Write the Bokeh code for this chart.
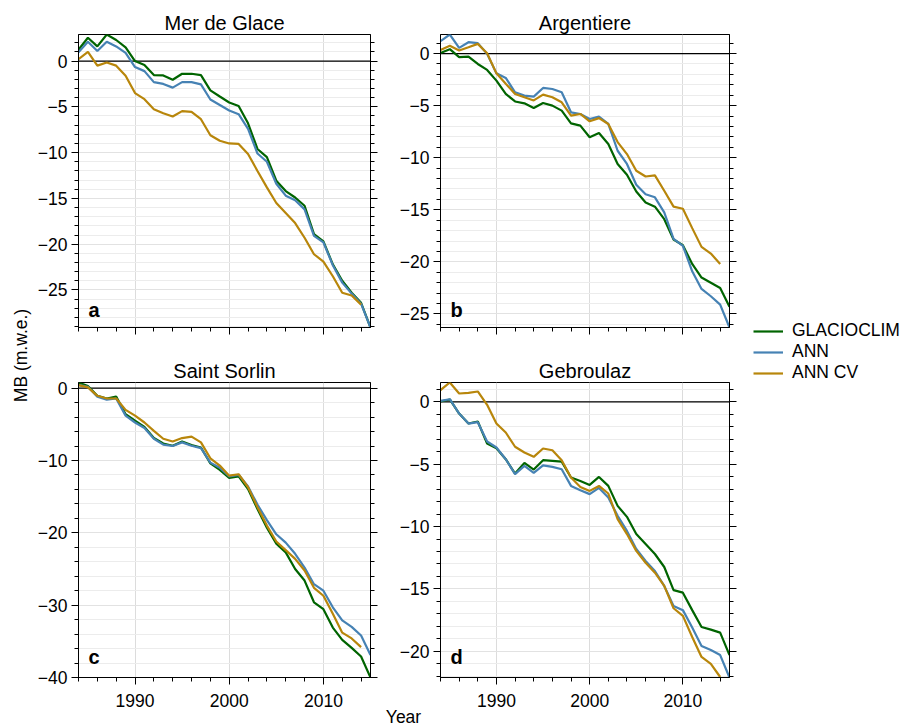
import math
from bokeh.plotting import figure
from bokeh.models import (Range1d, LinearAxis, SingleIntervalTicker, CustomJSTickFormatter,
                          Span, Label, Legend, LegendItem)
from bokeh.layouts import row, column
from bokeh.embed import file_html
from bokeh.resources import INLINE

# ---------------- data ----------------
years = list(range(1984, 2016))      # GLACIOCLIM and ANN
years_cv = list(range(1984, 2015))   # ANN CV

series_names = ["GLACIOCLIM", "ANN", "ANN CV"]

# Mer de Glace
mdg_glacioclim = [1.24, 2.55, 1.6, 2.9, 2.3, 1.5, 0.0, -0.44, -1.53, -1.57, -2.04, -1.39, -1.39, -1.53,
                  -3.2, -3.87, -4.53, -4.9, -6.8, -9.6, -10.5, -13.07, -14.2, -14.9, -15.8, -18.9,
                  -19.7, -22.2, -24.0, -25.3, -26.4, -29.1]
mdg_ann = [0.95, 2.1, 1.1, 2.1, 1.6, 0.9, -0.66, -1.1, -2.3, -2.5, -2.9, -2.3, -2.3, -2.55, -4.2, -4.8,
           -5.4, -5.8, -7.4, -10.1, -11.0, -13.4, -14.7, -15.2, -16.2, -19.1, -19.8, -22.3, -24.2,
           -25.4, -26.5, -29.1]
mdg_ann_cv = [0.2, 1.0, -0.5, -0.15, -0.5, -1.6, -3.5, -4.16, -5.26, -5.7, -6.06, -5.47, -5.55, -6.35,
              -8.1, -8.7, -9.0, -9.05, -10.15, -12.0, -13.8, -15.5, -16.6, -17.7, -19.3, -21.1, -21.9,
              -23.5, -25.3, -25.6, -26.6]

# Argentiere
arg_glacioclim = [0.06, 0.42, -0.35, -0.29, -1.0, -1.57, -2.6, -3.88, -4.6, -4.78, -5.22, -4.74, -5.0,
                  -5.48, -6.7, -6.92, -8.04, -7.63, -8.69, -10.6, -11.63, -13.24, -14.3, -14.7, -15.9,
                  -17.85, -18.4, -20.2, -21.5, -22.0, -22.5, -24.3]
arg_ann = [1.19, 1.83, 0.55, 1.09, 1.0, -0.03, -1.9, -2.34, -3.72, -4.04, -4.13, -3.3, -3.4, -3.72,
           -5.64, -5.8, -6.28, -6.06, -6.76, -9.33, -10.6, -12.6, -13.5, -13.8, -15.25, -17.8, -18.46,
           -20.9, -22.6, -23.3, -24.1, -26.3]
arg_ann_cv = [0.35, 0.74, 0.29, 0.6, 0.93, 0.03, -1.9, -2.9, -3.88, -4.2, -4.5, -3.94, -4.2, -4.68,
              -5.96, -5.8, -6.5, -6.2, -6.76, -8.5, -9.65, -11.25, -11.8, -11.7, -13.17, -14.7, -14.9,
              -16.76, -18.56, -19.2, -20.2]

# Saint Sorlin
ss_glacioclim = [0.78, 0.28, -1.06, -1.43, -1.15, -3.6, -4.5, -5.35, -6.9, -7.65, -7.97, -7.37, -7.88,
                 -8.2, -10.4, -11.3, -12.4, -12.2, -13.96, -16.7, -19.3, -21.5, -22.7, -25.0, -26.6,
                 -29.6, -30.55, -33.1, -34.8, -35.9, -37.1, -40.0]
ss_ann = [0.46, 0.18, -1.2, -1.6, -1.43, -3.8, -4.75, -5.5, -7.0, -7.8, -8.0, -7.5, -7.97, -8.3, -10.3,
          -11.0, -12.2, -11.98, -13.6, -16.1, -18.25, -20.2, -21.35, -22.9, -24.8, -27.1, -28.0, -30.3,
          -32.1, -33.0, -34.2, -36.9]
ss_ann_cv = [0.41, 0.1, -1.06, -1.43, -1.43, -3.0, -3.8, -4.75, -5.9, -7.0, -7.37, -6.9, -6.7, -7.5,
             -9.7, -10.7, -12.1, -11.9, -13.7, -16.45, -19.0, -21.2, -22.4, -23.6, -25.2, -27.6, -28.7,
             -31.2, -33.8, -34.6, -35.8]

# Gebroulaz
geb_glacioclim = [0.03, 0.19, -0.94, -1.74, -1.58, -3.34, -3.72, -4.6, -5.75, -4.9, -5.43, -4.68, -4.73,
                  -4.79, -6.07, -6.34, -6.66, -6.02, -6.74, -8.34, -9.22, -10.6, -11.4, -12.2, -13.24,
                  -15.1, -15.3, -16.7, -18.05, -18.26, -18.5, -20.3]
geb_ann = [0.08, 0.21, -0.94, -1.74, -1.63, -3.18, -3.66, -4.6, -5.8, -5.13, -5.7, -5.1, -5.21, -5.4,
           -6.74, -7.09, -7.4, -6.9, -7.67, -9.14, -10.35, -11.8, -12.75, -13.56, -14.76, -16.36, -16.7,
           -18.1, -19.57, -19.9, -20.3, -22.1]
geb_ann_cv = [0.94, 1.55, 0.67, 0.72, 0.83, -0.24, -1.74, -2.46, -3.6, -4.06, -4.41, -3.74, -3.88, -4.68,
              -6.07, -6.82, -7.14, -6.74, -7.35, -9.4, -10.6, -11.95, -12.9, -13.7, -14.76, -16.55,
              -17.16, -18.85, -20.45, -21.0, -22.06]

# ---------------- style ----------------
FONT = "Liberation Sans"
C_GL = "#006400"
C_ANN = "#4682b4"
C_CV = "#b8860b"
LW = 2.2
MINUS_JS = "return tick < 0 ? '\u2212' + Math.abs(tick) : String(tick);"
EMPTY_JS = "return '';"


def style_axis(ax, show_labels):
    ax.axis_line_color = "black"
    ax.axis_line_width = 1
    ax.major_tick_line_color = "black"
    ax.minor_tick_line_color = "black"
    ax.major_tick_in = 0
    ax.major_tick_out = 7
    ax.minor_tick_in = 0
    ax.minor_tick_out = 4
    ax.major_label_text_font = FONT
    ax.major_label_text_font_size = "17.5px"
    ax.major_label_text_color = "black"
    if show_labels:
        ax.formatter = CustomJSTickFormatter(code=MINUS_JS)
        ax.major_label_standoff = 4
    else:
        ax.formatter = CustomJSTickFormatter(code=EMPTY_JS)
        ax.major_label_standoff = 0


def make_panel(title, gl, ann, cv, major, w, h, bl, br, bt, bb, xlabels, letter, letter_y):
    ys = gl + ann + cv
    p = figure(width=w, height=h, x_range=Range1d(1984, 2015), y_range=Range1d(min(ys), max(ys)),
               output_backend="svg", toolbar_location=None,
               min_border_left=bl, min_border_right=br, min_border_top=bt, min_border_bottom=bb,
               background_fill_color="white", border_fill_color="white")
    xt = SingleIntervalTicker(interval=10, num_minor_ticks=5)
    yt = SingleIntervalTicker(interval=major, num_minor_ticks=5)
    bottom = p.below[0]
    left = p.left[0]
    bottom.ticker = xt
    left.ticker = yt
    right = LinearAxis(ticker=yt)
    p.add_layout(right, "right")
    style_axis(bottom, xlabels)
    style_axis(left, True)
    style_axis(right, False)
    if xlabels:
        bottom.major_label_standoff = 9

    p.xgrid.ticker = xt
    p.ygrid.ticker = yt
    p.xgrid.grid_line_color = "#dcdcdc"
    p.xgrid.minor_grid_line_color = None
    p.ygrid.grid_line_color = "#e2e2e2"
    p.ygrid.minor_grid_line_color = "#ececec"
    p.outline_line_color = "black"
    p.outline_line_width = 1

    p.title.text = title
    p.title.align = "center"
    p.title.text_font = FONT
    p.title.text_font_size = "20px"
    p.title.text_font_style = "normal"
    p.title.text_color = "black"
    p.title.standoff = 2

    p.add_layout(Span(location=0, dimension="width", line_color="black", line_width=1.2,
                      level="underlay"))

    p.line(years, gl, line_color=C_GL, line_width=LW)
    p.line(years, ann, line_color=C_ANN, line_width=LW)
    p.line(years_cv, cv, line_color=C_CV, line_width=LW)

    p.add_layout(Label(x=10, y=letter_y, x_units="screen", y_units="screen", text=letter,
                       text_font=FONT, text_font_size="20px", text_font_style="bold",
                       text_color="black", text_baseline="alphabetic"))
    return p


pa = make_panel("Mer de Glace", mdg_glacioclim, mdg_ann, mdg_ann_cv, 5,
                362, 355, 44, 26, 34, 28, False, "a", 18)
pb = make_panel("Argentiere", arg_glacioclim, arg_ann, arg_ann_cv, 5,
                344, 355, 41, 11, 34, 28, False, "b", 18)
pc = make_panel("Saint Sorlin", ss_glacioclim, ss_ann, ss_ann_cv, 10,
                362, 358, 44, 26, 27, 36, True, "c", 21)
pd = make_panel("Gebroulaz", geb_glacioclim, geb_ann, geb_ann_cv, 5,
                344, 358, 41, 11, 27, 36, True, "d", 21)


def blank(w, h):
    f = figure(width=w, height=h, x_range=Range1d(0, 1), y_range=Range1d(0, 1),
               x_axis_type=None, y_axis_type=None, min_border=0, outline_line_color=None,
               output_backend="svg", toolbar_location=None,
               background_fill_color="white", border_fill_color="white")
    return f


# y label
yf = blank(34, 727)
yf.add_layout(Label(x=20, y=372, x_units="screen", y_units="screen", text="MB (m.w.e.)",
                    angle=math.pi / 2, text_align="center", text_baseline="middle",
                    text_font=FONT, text_font_size="17.5px", text_color="black"))

# x label: transparent strip pulled up over the (empty) lower border of the bottom panels
xf = blank(706, 21)
xf.background_fill_alpha = 0
xf.border_fill_alpha = 0
xf.margin = (-7, 0, 0, 0)
xf.add_layout(Label(x=369, y=11, x_units="screen", y_units="screen", text="Year",
                    text_align="center", text_baseline="alphabetic",
                    text_font=FONT, text_font_size="17.5px", text_color="black"))

# legend (renderers hold the real series but sit outside this figure's visible range)
lf = blank(161, 727)
r1 = lf.line(years, mdg_glacioclim, line_color=C_GL, line_width=LW)
r2 = lf.line(years, mdg_ann, line_color=C_ANN, line_width=LW)
r3 = lf.line(years_cv, mdg_ann_cv, line_color=C_CV, line_width=LW)
leg = Legend(items=[LegendItem(label=series_names[0], renderers=[r1]),
                    LegendItem(label=series_names[1], renderers=[r2]),
                    LegendItem(label=series_names[2], renderers=[r3])],
             location=(13, 344), orientation="vertical",
             border_line_color=None, background_fill_alpha=0,
             padding=0, margin=0, spacing=0,
             glyph_width=30, glyph_height=20, label_height=20, label_standoff=9,
             label_text_font=FONT, label_text_font_size="17.5px", label_text_color="black")
lf.add_layout(leg)

root = row(yf, column(row(pa, pb), row(pc, pd), xf), lf)

with open("out.html", "w", encoding="utf-8") as fh:
    fh.write(file_html(root, INLINE))
